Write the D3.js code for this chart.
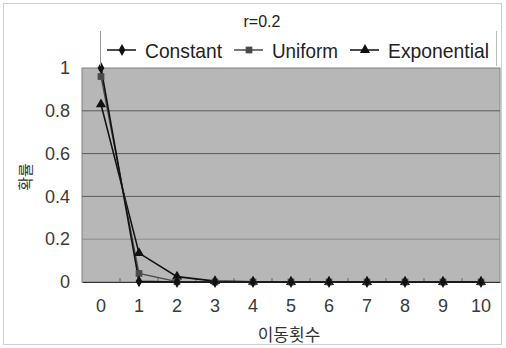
<!DOCTYPE html>
<html><head><meta charset="utf-8">
<script src="https://cdn.jsdelivr.net/npm/d3@7"></script>
<style>body{margin:0;background:#fff}svg{display:block;font-family:"Liberation Sans",Arial,sans-serif}</style>
</head><body><svg id="c" width="506" height="348"></svg>
<script>
const categories = ["0","1","2","3","4","5","6","7","8","9","10"];
const constant = [1.0, 0.003, 0, 0, 0, 0, 0, 0, 0, 0, 0];
const uniform = [0.96, 0.04, 0.002, 0, 0, 0, 0, 0, 0, 0, 0];
const exponential = [0.83, 0.135, 0.025, 0.004, 0.001, 0, 0, 0, 0, 0, 0];
const yTicks = [0, 0.2, 0.4, 0.6, 0.8, 1];
const seriesNames = ["Constant", "Uniform", "Exponential"];
const title = "r=0.2";
const xTitle = "이동횟수";
const yTitle = "확률";

const svg = d3.select("#c");
const m = {l:82, r:6, t:68, b:66};
const W = 506, H = 348;
const x = d3.scaleBand().domain(categories).range([m.l, W - m.r]);
const y = d3.scaleLinear().domain([0, 1]).range([H - m.b, m.t]);

// outer frame
svg.append("rect").attr("x",3.5).attr("y",3.5).attr("width",498).attr("height",341)
  .attr("fill","#fff").attr("stroke","#cfcfcf");

// plot area
svg.append("rect").attr("x",m.l).attr("y",m.t).attr("width",W-m.r-m.l).attr("height",H-m.b-m.t)
  .attr("fill","#b7b7b7").attr("stroke","#808080").attr("stroke-width",1);

// gridlines
svg.append("g").selectAll("line").data(yTicks.filter(d=>d>0&&d<1)).join("line")
  .attr("x1",m.l).attr("x2",W-m.r).attr("y1",d=>y(d)).attr("y2",d=>y(d))
  .attr("stroke",d=>d===0.2?"#8c8c8c":"#5a5a5a").attr("stroke-width",1);

const tickFont = "Liberation Sans, Arial, sans-serif";
// y axis
const ya = svg.append("g").attr("transform",`translate(${m.l},0)`)
  .call(d3.axisLeft(y).tickValues(yTicks).tickSize(0).tickPadding(12).tickFormat(d=>String(d)));
ya.select(".domain").remove();
ya.selectAll("text").attr("font-size",18).attr("fill","#3a3a3a").attr("font-family",tickFont);

// x axis
const xa = svg.append("g").attr("transform",`translate(0,${H-m.b})`)
  .call(d3.axisBottom(x).tickSize(0).tickPadding(17));
xa.select(".domain").attr("stroke","#333");
xa.selectAll("text").attr("font-size",18).attr("fill","#3a3a3a").attr("font-family",tickFont);
// tick marks at band boundaries
svg.append("g").selectAll("line").data(categories.slice(1)).join("line")
  .attr("x1",d=>x(d)).attr("x2",d=>x(d)).attr("y1",H-m.b).attr("y2",H-m.b-4).attr("stroke","#666");

const cx = d => x(d) + x.bandwidth()/2;
const line = d3.line().x((d,i)=>cx(categories[i])).y(d=>y(d));
const data = [constant, uniform, exponential];
const colors = ["#111", "#4a4a4a", "#111"];
const sym = [d3.symbolDiamond, d3.symbolSquare, d3.symbolTriangle];
const sizes = [40, 45, 45];

[2,1,0].forEach(k=>{
  svg.append("path").datum(data[k]).attr("d",line).attr("fill","none")
    .attr("stroke",colors[k]).attr("stroke-width",k===1?1.3:1.6);
});
[2,1,0].forEach(k=>{
  svg.append("g").selectAll("path").data(data[k]).join("path")
    .attr("transform",(d,i)=>`translate(${cx(categories[i])},${y(d)})`)
    .attr("d",d3.symbol().type(sym[k]).size(sizes[k]))
    .attr("fill",colors[k]);
});

// title
svg.append("text").attr("x",262).attr("y",27).attr("text-anchor","middle")
  .attr("font-size",16).attr("fill","#222").text(title);

// legend frame lines
svg.append("line").attr("x1",100.5).attr("x2",100.5).attr("y1",31).attr("y2",66).attr("stroke","#999");
svg.append("line").attr("x1",496.5).attr("x2",496.5).attr("y1",31).attr("y2",66).attr("stroke","#bbb");

const legX = [107, 234, 350];
const legTextLen = [77, 66, 101];
const legY = 50;
seriesNames.forEach((n,k)=>{
  const g = svg.append("g").attr("transform",`translate(${legX[k]},${legY})`);
  g.append("line").attr("x1",0).attr("x2",29).attr("y1",0).attr("y2",0).attr("stroke",colors[k]).attr("stroke-width",1.5);
  g.append("path").attr("transform","translate(15,0)").attr("d",d3.symbol().type(sym[k]).size(sizes[k])).attr("fill",colors[k]);
  g.append("text").attr("x",38).attr("y",7.5).attr("font-size",21).attr("fill","#222")
    .attr("textLength",legTextLen[k]).attr("lengthAdjust","spacingAndGlyphs").text(n);
});

// axis titles
svg.append("text").attr("x",289).attr("y",341).attr("text-anchor","middle")
  .attr("font-size",17).attr("fill","#333").attr("font-family","Noto Sans CJK KR, sans-serif").text(xTitle);
svg.append("text").attr("transform","translate(31,177) rotate(-90)").attr("text-anchor","middle")
  .attr("font-size",15).attr("fill","#333").attr("font-family","Noto Sans CJK KR, sans-serif").text(yTitle);
</script></body></html>
